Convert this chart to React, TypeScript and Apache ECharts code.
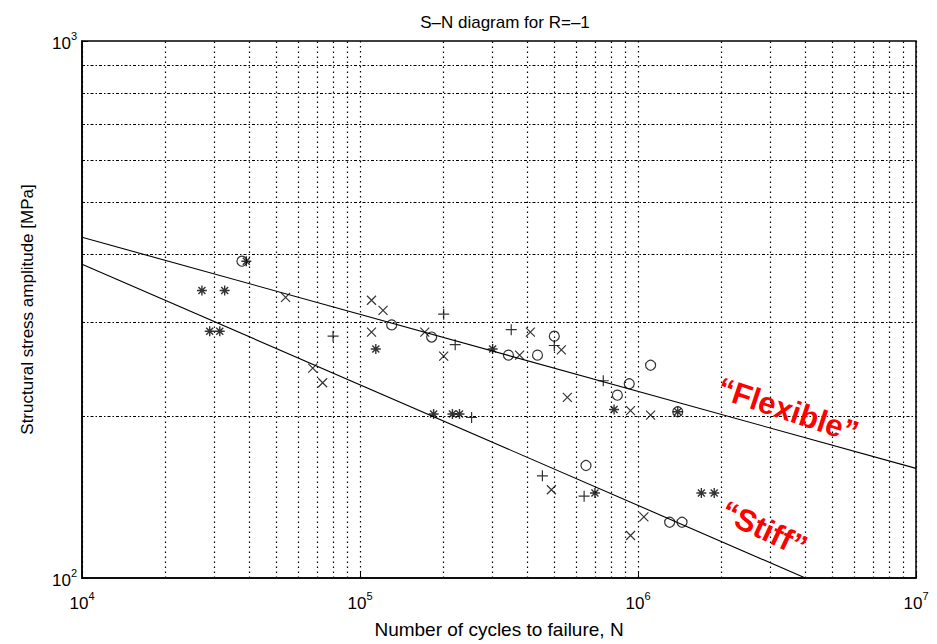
import React, { useEffect, useRef } from "react";
import * as echarts from "echarts";

// ---- data ----
const flexibleLine: [number, number][] = [[1e4, 431], [1e7, 160]];
const stiffLine: [number, number][] = [[1e4, 384], [4e6, 100]];

const circlePts: [number, number][] = [
  [3.76e4, 389], [1.3e5, 296], [1.81e5, 281], [3.42e5, 260], [4.35e5, 260],
  [5.0e5, 282], [1.11e6, 249], [9.3e5, 230], [8.43e5, 219], [1.39e6, 204],
  [6.5e5, 162], [1.3e6, 127], [1.44e6, 127],
];
const crossPts: [number, number][] = [
  [5.4e4, 333], [1.1e5, 329], [1.21e5, 315], [1.1e5, 287], [6.76e4, 246],
  [7.34e4, 231], [1.71e5, 287], [2.0e5, 259], [3.75e5, 260], [4.1e5, 287],
  [5.3e5, 266], [5.57e5, 217], [9.4e5, 205], [1.11e6, 201], [4.88e5, 146],
  [1.05e6, 130], [9.4e5, 120],
];
const plusPts: [number, number][] = [
  [8.0e4, 282], [2.0e5, 310], [2.2e5, 272], [3.5e5, 290], [5.0e5, 271],
  [7.5e5, 233], [2.52e5, 199], [4.53e5, 155], [6.4e5, 142],
];
const starPts: [number, number][] = [
  [3.9e4, 389], [2.7e4, 343], [3.26e4, 343], [2.88e4, 288], [3.13e4, 288],
  [1.14e5, 267], [3.0e5, 267], [8.2e5, 206], [1.39e6, 204], [1.84e5, 202],
  [2.15e5, 202], [2.28e5, 202], [7.0e5, 144], [1.69e6, 144], [1.88e6, 144],
];

const xDecades = [1e4, 1e5, 1e6];
const yDecades = [1e2];
const gridMultipliers = [2, 3, 4, 5, 6, 7, 8, 9];

const titleText = "S–N diagram for R=–1";
const xName = "Number of cycles to failure, N";
const yName = "Structural stress amplitude [MPa]";
const flexLabel = "“Flexible”";
const stiffLabel = "“Stiff”";

const FONT = "Liberation Sans, Arial, Helvetica, sans-serif";

export default function App() {
  const ref = useRef<HTMLDivElement>(null);
  useEffect(() => {
    if (!ref.current) return;
    const chart = echarts.init(ref.current, undefined, { renderer: "svg" });

    const xMinor: number[] = [];
    xDecades.forEach((d) => gridMultipliers.forEach((m) => xMinor.push(m * d)));
    const yMinor: number[] = [];
    yDecades.forEach((d) => gridMultipliers.forEach((m) => yMinor.push(m * d)));

    const dotStyle = { color: "#000", width: 1.2, type: [1.5, 3.5] as any };
    const dashDotStyle = { color: "#000", width: 1.2, type: [3, 2, 1.5, 2] as any };

    const markData: any[] = [
      ...xMinor.map((v) => ({ xAxis: v, lineStyle: dotStyle })),
      ...yMinor.map((v) => ({ yAxis: v, lineStyle: dashDotStyle })),
    ];

    const supFmt = (v: number) => `{b|10}{s|${Math.round(Math.log10(v))}}`;
    const richTick = {
      b: { fontFamily: FONT, fontSize: 17, color: "#000", lineHeight: 22, verticalAlign: "bottom" },
      s: { fontFamily: FONT, fontSize: 11, color: "#000", lineHeight: 22, verticalAlign: "top" },
    };

    const markerItem = { color: "transparent", borderColor: "#000", borderWidth: 1.2 };

    const option: any = {
      animation: false,
      backgroundColor: "#fff",
      textStyle: { fontFamily: FONT },
      title: {
        text: titleText,
        left: 500,
        top: 9,
        textAlign: "center",
        textStyle: { fontFamily: FONT, fontSize: 17, fontWeight: "normal", color: "#000" },
      },
      grid: {
        left: 82, right: 21, top: 41, bottom: 55,
        show: true, borderColor: "#000", borderWidth: 1.5, backgroundColor: "transparent",
      },
      xAxis: {
        type: "log", logBase: 10, min: 1e4, max: 1e7,
        name: xName, nameLocation: "middle", nameGap: 42,
        nameTextStyle: { fontFamily: FONT, fontSize: 19, color: "#000" },
        axisLine: { show: true, lineStyle: { color: "#000", width: 1.5 } },
        axisTick: { show: true, inside: true, length: 6, lineStyle: { color: "#000" } },
        axisLabel: { color: "#000", margin: 12, formatter: supFmt, rich: richTick },
        splitLine: { show: true, lineStyle: dotStyle },
        minorTick: { show: false },
      },
      yAxis: {
        type: "log", logBase: 10, min: 1e2, max: 1e3,
        name: yName, nameLocation: "middle", nameGap: 46,
        nameTextStyle: { fontFamily: FONT, fontSize: 17, color: "#000" },
        axisLine: { show: true, lineStyle: { color: "#000", width: 1.5 } },
        axisTick: { show: true, inside: true, length: 6, lineStyle: { color: "#000" } },
        axisLabel: { color: "#000", margin: 5, formatter: supFmt, rich: richTick },
        splitLine: { show: false },
      },
      series: [
        {
          name: "Flexible", type: "line", data: flexibleLine, showSymbol: false, symbol: "none",
          lineStyle: { color: "#000", width: 1.1 }, silent: true, z: 3,
          markLine: { silent: true, symbol: "none", label: { show: false }, data: markData, z: 1 },
        },
        {
          name: "Stiff", type: "line", data: stiffLine, showSymbol: false, symbol: "none",
          lineStyle: { color: "#000", width: 1.1 }, silent: true, z: 3,
        },
        {
          name: "o", type: "scatter", data: circlePts, symbol: "circle", symbolSize: 10,
          itemStyle: markerItem, z: 4,
        },
        {
          name: "x", type: "scatter", data: crossPts, symbol: "path://M0,0L10,10M0,10L10,0", symbolSize: 9,
          itemStyle: markerItem, z: 4,
        },
        {
          name: "+", type: "scatter", data: plusPts, symbol: "path://M5,0L5,10M0,5L10,5", symbolSize: 11,
          itemStyle: markerItem, z: 4,
        },
        {
          name: "*", type: "scatter", data: starPts,
          symbol: "path://M5,0L5,10M0,5L10,5M1.5,1.5L8.5,8.5M1.5,8.5L8.5,1.5", symbolSize: 10,
          itemStyle: { ...markerItem, borderWidth: 1.4 }, z: 4,
        },
      ],
      graphic: [
        {
          type: "text", x: 788, y: 410, rotation: -0.32, z: 10,
          style: { text: flexLabel, font: `bold 31px ${FONT}`, fill: "#ff0000", align: "center", verticalAlign: "middle" },
        },
        {
          type: "text", x: 764, y: 529, rotation: -0.44, z: 10,
          style: { text: stiffLabel, font: `bold 31px ${FONT}`, fill: "#ff0000", align: "center", verticalAlign: "middle" },
        },
      ],
    };
    chart.setOption(option);
    return () => chart.dispose();
  }, []);
  return (
    <div
      ref={ref}
      style={{ position: "fixed", left: 0, top: 0, width: 937, height: 644, background: "#fff" }}
    />
  );
}
